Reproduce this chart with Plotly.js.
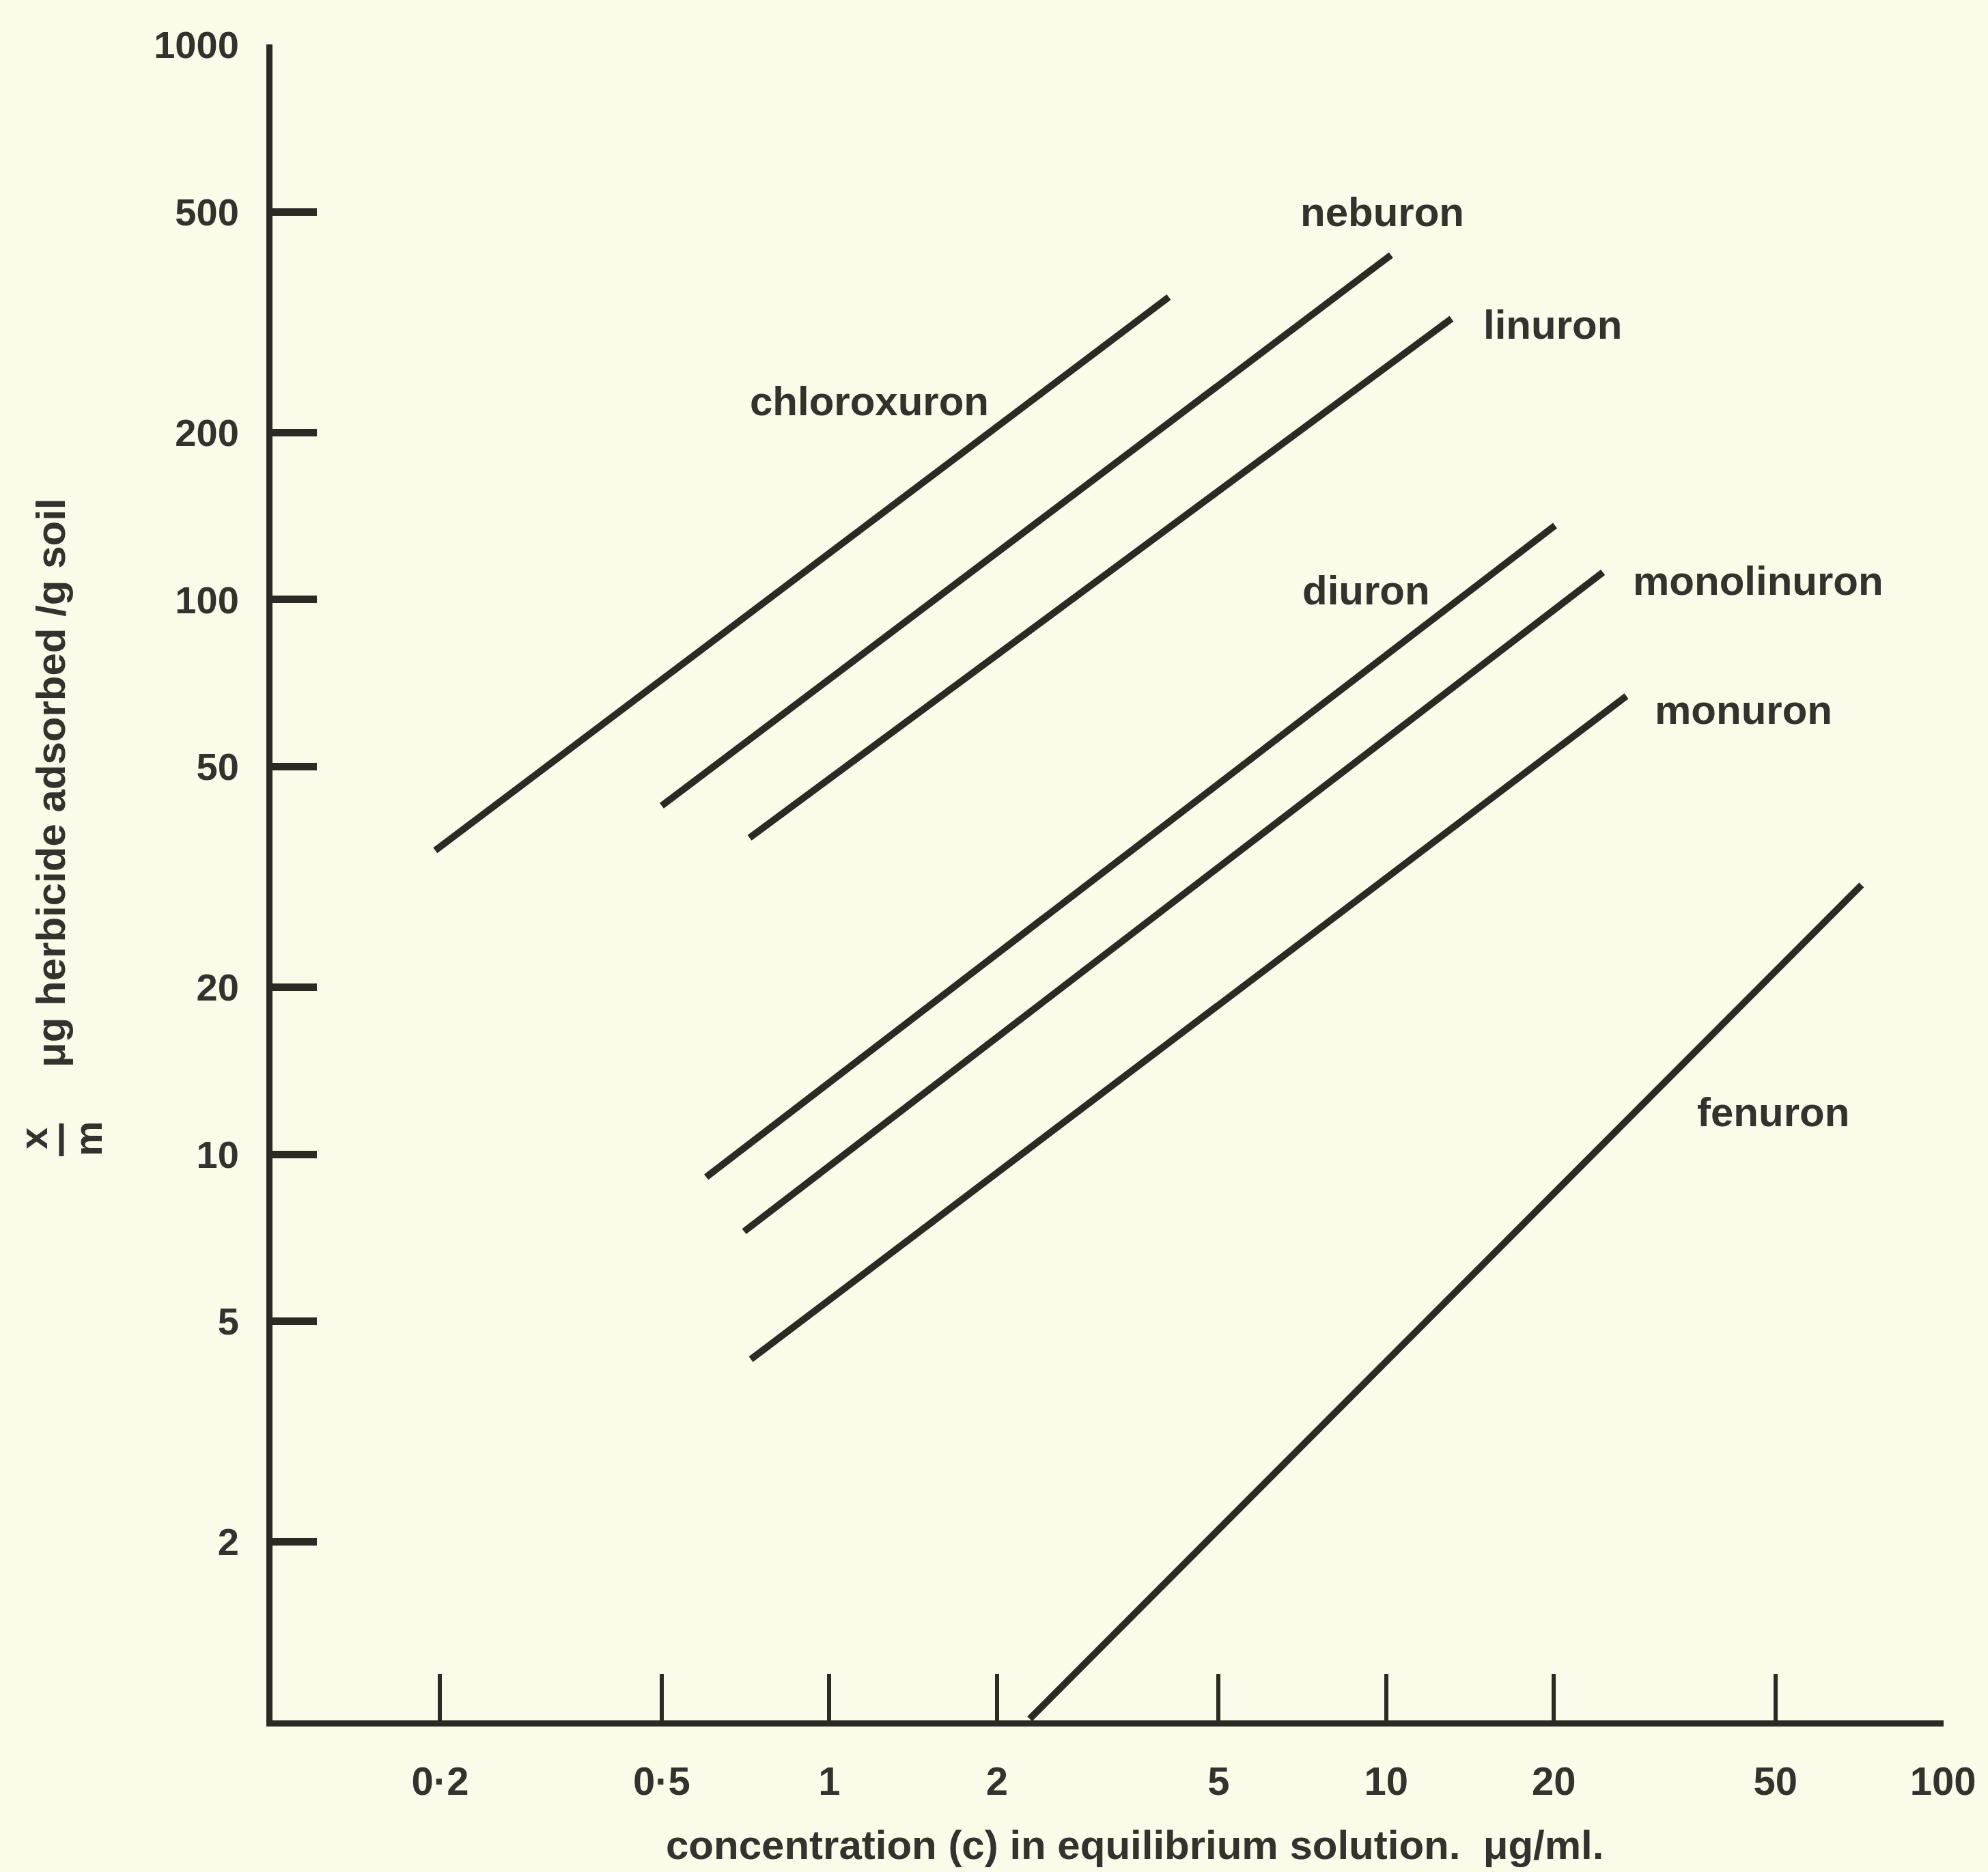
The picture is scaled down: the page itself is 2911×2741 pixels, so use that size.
<!DOCTYPE html>
<html>
<head>
<meta charset="utf-8">
<script src="https://cdn.plot.ly/plotly-3.0.1.min.js"></script>
<style>
  html, body { margin: 0; padding: 0; background: #fbfbea; }
  #chart { width: 2911px; height: 2741px; }
</style>
</head>
<body>
<div id="chart"></div>
<script>
// ---- data (log-log Freundlich isotherm lines) ----
const herbicides = ['chloroxuron', 'neburon', 'linuron', 'diuron', 'monolinuron', 'monuron', 'fenuron'];
const concStart  = [0.196, 0.500, 0.719, 0.601, 0.703, 0.723, 2.29];
const concEnd    = [4.07, 10.2, 13.1, 20.1, 24.5, 27.0, 71.4];
const adsStart   = [35.3, 42.5, 37.2, 9.1, 7.26, 4.27, 0.96];
const adsEnd     = [351, 418, 321, 136, 112, 67, 30.6];

const xTickVals = [0.2, 0.5, 1, 2, 5, 10, 20, 50, 100];
const xTickText = ['0·2', '0·5', '1', '2', '5', '10', '20', '50', '100'];
const yTickVals = [2, 5, 10, 20, 50, 100, 200, 500, 1000];
const yTickText = ['2', '5', '10', '20', '50', '100', '200', '500', '1000'];

// label anchor positions (data units), one per herbicide
const labelAtX = [1.18, 9.84, 19.9, 9.2, 46.5, 43.8, 49.5];
const labelAtY = [228, 500, 313, 104, 108, 63.2, 11.9];

const ink = '#2b2a23';
const textInk = '#33322c';
const bg = '#fbfbea';
const FONT = 'Liberation Sans, Arial, sans-serif';

const traces = herbicides.map((name, i) => ({
  type: 'scatter',
  mode: 'lines',
  name: name,
  x: [concStart[i], concEnd[i]],
  y: [adsStart[i], adsEnd[i]],
  line: { color: ink, width: 10 },
  hoverinfo: 'skip',
  showlegend: false
}));

const annotations = herbicides.map((name, i) => ({
  text: name,
  x: Math.log10(labelAtX[i]),
  y: Math.log10(labelAtY[i]),
  xref: 'x', yref: 'y',
  showarrow: false,
  xanchor: 'center', yanchor: 'middle',
  font: { family: FONT, size: 60, color: textInk, weight: 'bold' }
}));

// axis titles
annotations.push({
  text: 'concentration (c) in equilibrium solution.  μg/ml.',
  xref: 'paper', yref: 'paper', x: 0.516, y: -0.0742,
  showarrow: false, xanchor: 'center', yanchor: 'middle',
  font: { family: FONT, size: 60, color: textInk, weight: 'bold' }
});
annotations.push({
  text: 'μg herbicide adsorbed /g soil',
  xref: 'paper', yref: 'paper', x: 0, xshift: -324, y: 0.5595,
  textangle: -90, showarrow: false, xanchor: 'center', yanchor: 'middle',
  font: { family: FONT, size: 60, color: textInk, weight: 'bold' }
});
annotations.push({
  text: 'x',
  xref: 'paper', yref: 'paper', x: 0, xshift: -350, y: 0.3472,
  textangle: -90, showarrow: false, xanchor: 'center', yanchor: 'middle',
  font: { family: FONT, size: 58, color: textInk, weight: 'bold' }
});
annotations.push({
  text: 'm',
  xref: 'paper', yref: 'paper', x: 0, xshift: -270, y: 0.3472,
  textangle: -90, showarrow: false, xanchor: 'center', yanchor: 'middle',
  font: { family: FONT, size: 58, color: textInk, weight: 'bold' }
});

const layout = {
  width: 2911,
  height: 2741,
  paper_bgcolor: bg,
  plot_bgcolor: bg,
  margin: { l: 399, r: 65, t: 65, b: 222 },
  showlegend: false,
  xaxis: {
    type: 'log',
    range: [-1, 2.001],
    tickmode: 'array',
    tickvals: xTickVals,
    ticktext: xTickText,
    ticks: 'inside',
    ticklen: 68,
    tickwidth: 6,
    tickcolor: ink,
    showline: true,
    linecolor: ink,
    linewidth: 9,
    showgrid: false,
    zeroline: false,
    ticklabelstandoff: 30,
    tickfont: { family: FONT, size: 58, color: textInk, weight: 'bold' }
  },
  yaxis: {
    type: 'log',
    range: [-0.0205, 3.001],
    tickmode: 'array',
    tickvals: yTickVals,
    ticktext: yTickText,
    ticks: 'inside',
    ticklen: 65,
    tickwidth: 11,
    tickcolor: ink,
    showline: true,
    linecolor: ink,
    linewidth: 9,
    showgrid: false,
    zeroline: false,
    ticklabelstandoff: 29,
    tickfont: { family: FONT, size: 56, color: textInk, weight: 'bold' }
  },
  shapes: [{
    type: 'line', xref: 'paper', yref: 'paper',
    x0: -0.1263, x1: -0.1263, y0: 0.3366, y1: 0.3562,
    line: { color: textInk, width: 7 }
  }],
  annotations: annotations
};

Plotly.newPlot('chart', traces, layout, { staticPlot: true, displayModeBar: false });
</script>
</body>
</html>
